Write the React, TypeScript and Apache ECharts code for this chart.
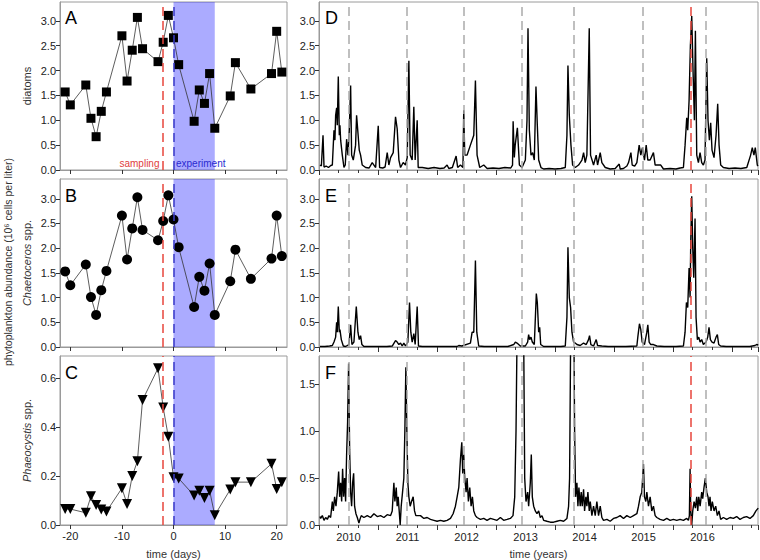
import React, { useEffect, useRef } from 'react';
import * as echarts from 'echarts';

// ---------- left panels: days relative to experiment start ----------
const days = [-21, -20, -17, -16, -15, -14, -13, -10, -9, -8, -7, -6, -3, -2, -1, 0, 1, 4, 5, 6, 7, 8, 11, 12, 15, 19, 20, 21];
const diatoms = [1.57, 1.31, 1.71, 1.04, 0.67, 1.18, 1.57, 2.70, 1.79, 2.41, 3.07, 2.44, 2.18, 2.57, 3.11, 2.66, 2.12, 0.98, 1.61, 1.34, 1.94, 0.84, 1.49, 2.16, 1.63, 1.94, 2.79, 1.97];
const chaetoceros = [1.53, 1.25, 1.67, 1.01, 0.65, 1.15, 1.54, 2.66, 1.77, 2.40, 3.03, 2.37, 2.16, 2.55, 3.07, 2.58, 2.02, 0.81, 1.42, 1.14, 1.69, 0.65, 1.33, 1.97, 1.38, 1.79, 2.66, 1.84];
const phaeocystis = [0.065, 0.065, 0.05, 0.117, 0.082, 0.063, 0.055, 0.15, 0.086, 0.20, 0.26, 0.51, 0.64, 0.48, 0.36, 0.195, 0.19, 0.12, 0.14, 0.11, 0.14, 0.04, 0.145, 0.175, 0.175, 0.25, 0.147, 0.175];

const samplingDay = -2;
const experimentStart = 0;
const experimentEnd = 8;
const dayTicks = [-20, -10, 0, 10, 20];

// ---------- right panels: decimal years ----------
const bloomDates = [2010.50, 2011.48, 2012.45, 2013.43, 2014.31, 2015.49, 2016.55];
const samplingDate = 2016.30;
const yearLabels = [2010, 2011, 2012, 2013, 2014, 2015, 2016];

const diatomsTs: [number, number][] = [
  [2010.017, 0.10], [2010.04, 0.08], [2010.068, 0.70], [2010.085, 0.06], [2010.12, 0.08], [2010.16, 0.05], [2010.20, 0.09],
  [2010.226, 0.10], [2010.254, 0.80], [2010.270, 0.60], [2010.282, 1.10], [2010.299, 1.25], [2010.310, 0.90], [2010.327, 1.88],
  [2010.344, 0.70], [2010.355, 0.90], [2010.367, 0.60], [2010.395, 0.30], [2010.423, 0.05], [2010.445, 0.10], [2010.468, 0.62],
  [2010.491, 0.30], [2010.513, 0.80], [2010.536, 1.70], [2010.553, 0.30], [2010.581, 0.20], [2010.620, 0.50], [2010.637, 1.10],
  [2010.660, 0.75], [2010.682, 0.40], [2010.705, 0.30], [2010.733, 0.10], [2010.790, 0.05], [2010.85, 0.04], [2010.902, 0.15],
  [2010.931, 0.10], [2010.96, 0.05], [2011.004, 0.89], [2011.027, 0.05], [2011.08, 0.04], [2011.12, 0.06], [2011.156, 0.35],
  [2011.184, 0.10], [2011.213, 0.25], [2011.258, 0.35], [2011.297, 1.07], [2011.325, 0.83], [2011.354, 0.20], [2011.382, 0.05],
  [2011.427, 0.15], [2011.466, 0.10], [2011.495, 0.25], [2011.523, 2.20], [2011.545, 0.30], [2011.579, 0.20], [2011.607, 1.27],
  [2011.630, 0.20], [2011.664, 1.00], [2011.681, 0.05], [2011.75, 0.05], [2011.85, 0.03], [2011.95, 0.05], [2012.05, 0.03],
  [2012.12, 0.04], [2012.171, 0.10], [2012.20, 0.03], [2012.26, 0.05], [2012.324, 0.28], [2012.35, 0.05], [2012.397, 0.10],
  [2012.440, 0.05], [2012.453, 1.20], [2012.470, 0.30], [2012.510, 0.30], [2012.566, 0.50], [2012.623, 0.70], [2012.651, 1.80],
  [2012.679, 0.30], [2012.724, 0.05], [2012.792, 0.10], [2012.85, 0.03], [2012.95, 0.04], [2013.05, 0.03], [2013.15, 0.05],
  [2013.25, 0.04], [2013.28, 0.10], [2013.29, 0.98], [2013.31, 0.25], [2013.325, 0.50], [2013.362, 0.85], [2013.396, 0.10],
  [2013.441, 0.05], [2013.497, 0.20], [2013.525, 1.00], [2013.542, 2.85], [2013.565, 0.80], [2013.593, 0.30], [2013.621, 0.35],
  [2013.649, 0.20], [2013.677, 1.68], [2013.700, 0.90], [2013.723, 0.20], [2013.762, 0.05], [2013.807, 0.02], [2013.90, 0.03],
  [2014.00, 0.02], [2014.10, 0.03], [2014.174, 0.05], [2014.202, 0.70], [2014.219, 2.10], [2014.242, 1.10], [2014.270, 0.50],
  [2014.298, 0.10], [2014.343, 0.05], [2014.399, 0.10], [2014.456, 0.20], [2014.484, 0.35], [2014.512, 0.15], [2014.540, 0.30],
  [2014.580, 2.85], [2014.602, 0.30], [2014.653, 0.10], [2014.698, 0.30], [2014.721, 0.10], [2014.766, 0.35], [2014.794, 0.15],
  [2014.851, 0.05], [2014.935, 0.02], [2015.02, 0.03], [2015.088, 0.12], [2015.105, 0.02], [2015.16, 0.03], [2015.218, 0.08],
  [2015.246, 0.15], [2015.286, 0.35], [2015.308, 0.10], [2015.350, 0.08], [2015.387, 0.15], [2015.426, 0.50], [2015.454, 0.30],
  [2015.482, 0.45], [2015.516, 0.20], [2015.545, 0.50], [2015.573, 0.20], [2015.612, 0.20], [2015.668, 0.35], [2015.697, 0.10],
  [2015.753, 0.10], [2015.792, 0.10], [2015.838, 0.02], [2015.95, 0.03], [2016.05, 0.02], [2016.12, 0.04], [2016.176, 0.05],
  [2016.204, 0.50], [2016.232, 1.05], [2016.249, 0.80], [2016.272, 1.40], [2016.294, 2.50], [2016.317, 3.10], [2016.339, 2.00],
  [2016.362, 1.00], [2016.379, 2.80], [2016.402, 0.30], [2016.430, 0.15], [2016.458, 0.35], [2016.486, 0.15], [2016.514, 0.10],
  [2016.542, 0.20], [2016.571, 2.25], [2016.593, 1.00], [2016.616, 0.60], [2016.638, 0.95], [2016.661, 0.40], [2016.695, 0.25],
  [2016.729, 0.70], [2016.757, 1.33], [2016.780, 0.50], [2016.808, 0.10], [2016.853, 0.05], [2016.95, 0.03], [2017.05, 0.04],
  [2017.15, 0.03], [2017.25, 0.05], [2017.315, 0.30], [2017.343, 0.45], [2017.371, 0.30], [2017.394, 0.45], [2017.428, 0.10],
  [2017.44, 0.08],
];

const chaetocerosTs: [number, number][] = [
  [2010.017, 0.01], [2010.10, 0.01], [2010.18, 0.02], [2010.226, 0.03], [2010.254, 0.10], [2010.282, 0.20], [2010.299, 0.50],
  [2010.310, 0.30], [2010.327, 0.82], [2010.344, 0.30], [2010.355, 0.35], [2010.378, 0.15], [2010.412, 0.02], [2010.45, 0.01],
  [2010.508, 0.05], [2010.536, 0.45], [2010.558, 0.05], [2010.592, 0.10], [2010.632, 0.82], [2010.660, 0.30], [2010.682, 0.15],
  [2010.705, 0.23], [2010.727, 0.05], [2010.761, 0.01], [2010.85, 0.01], [2010.95, 0.01], [2011.05, 0.01], [2011.15, 0.01],
  [2011.241, 0.02], [2011.297, 0.13], [2011.325, 0.10], [2011.354, 0.05], [2011.382, 0.08], [2011.410, 0.02], [2011.438, 0.08],
  [2011.466, 0.02], [2011.506, 0.10], [2011.534, 0.90], [2011.556, 0.30], [2011.579, 0.10], [2011.607, 0.27], [2011.630, 0.05],
  [2011.664, 0.82], [2011.686, 0.02], [2011.75, 0.01], [2011.9, 0.01], [2012.0, 0.01], [2012.1, 0.01], [2012.2, 0.01],
  [2012.34, 0.01], [2012.369, 0.03], [2012.42, 0.02], [2012.566, 0.08], [2012.595, 0.30], [2012.623, 0.30], [2012.651, 1.75],
  [2012.674, 0.30], [2012.707, 0.02], [2012.8, 0.01], [2012.9, 0.01], [2013.0, 0.01], [2013.1, 0.01], [2013.2, 0.01],
  [2013.300, 0.05], [2013.328, 0.10], [2013.356, 0.08], [2013.384, 0.05], [2013.412, 0.02], [2013.497, 0.02], [2013.536, 0.10],
  [2013.553, 0.25], [2013.570, 0.15], [2013.593, 0.20], [2013.615, 0.10], [2013.649, 0.05], [2013.683, 1.08], [2013.700, 0.90],
  [2013.723, 0.30], [2013.740, 0.40], [2013.757, 0.05], [2013.807, 0.01], [2013.9, 0.01], [2014.0, 0.01], [2014.1, 0.01],
  [2014.174, 0.02], [2014.202, 0.60], [2014.219, 2.02], [2014.242, 1.00], [2014.264, 0.80], [2014.287, 0.30], [2014.315, 0.10],
  [2014.343, 0.08], [2014.371, 0.05], [2014.427, 0.03], [2014.484, 0.08], [2014.529, 0.05], [2014.568, 0.15], [2014.585, 0.23],
  [2014.608, 0.05], [2014.653, 0.02], [2014.698, 0.15], [2014.721, 0.03], [2014.794, 0.02], [2014.9, 0.01], [2015.0, 0.01],
  [2015.1, 0.01], [2015.2, 0.01], [2015.387, 0.02], [2015.403, 0.20], [2015.431, 0.47], [2015.454, 0.35], [2015.477, 0.10],
  [2015.516, 0.05], [2015.556, 0.30], [2015.573, 0.45], [2015.595, 0.10], [2015.623, 0.05], [2015.668, 0.05], [2015.725, 0.02],
  [2015.85, 0.01], [2015.95, 0.01], [2016.05, 0.01], [2016.176, 0.02], [2016.204, 0.30], [2016.227, 0.90], [2016.249, 0.80],
  [2016.272, 1.60], [2016.289, 1.00], [2016.300, 2.10], [2016.317, 3.05], [2016.334, 2.00], [2016.351, 1.40], [2016.373, 2.60],
  [2016.390, 0.60], [2016.413, 0.15], [2016.436, 0.20], [2016.458, 0.10], [2016.486, 0.15], [2016.514, 0.05], [2016.560, 0.10],
  [2016.588, 0.20], [2016.610, 0.40], [2016.633, 0.15], [2016.661, 0.10], [2016.695, 0.08], [2016.729, 0.20], [2016.751, 0.25],
  [2016.774, 0.05], [2016.807, 0.02], [2016.9, 0.01], [2017.0, 0.01], [2017.1, 0.01], [2017.2, 0.01], [2017.3, 0.01],
  [2017.389, 0.03], [2017.416, 0.05], [2017.444, 0.04],
];

const phaeocystisTs: [number, number][] = [
  [2010.017, 0.09], [2010.028, 0.07], [2010.056, 0.10], [2010.085, 0.05], [2010.113, 0.08], [2010.141, 0.06], [2010.169, 0.10],
  [2010.197, 0.08], [2010.226, 0.25], [2010.243, 0.15], [2010.265, 0.30], [2010.288, 0.20], [2010.310, 0.35], [2010.333, 0.57],
  [2010.350, 0.30], [2010.367, 0.45], [2010.384, 0.25], [2010.400, 0.60], [2010.417, 0.30], [2010.434, 0.50], [2010.451, 0.25],
  [2010.468, 0.75], [2010.485, 1.10], [2010.502, 1.72], [2010.519, 0.80], [2010.536, 0.35], [2010.553, 0.20], [2010.570, 0.45],
  [2010.587, 0.55], [2010.603, 0.20], [2010.626, 0.12], [2010.649, 0.08], [2010.677, 0.02], [2010.694, 0.06], [2010.716, 0.10],
  [2010.761, 0.08], [2010.818, 0.10], [2010.874, 0.08], [2010.931, 0.12], [2010.987, 0.09], [2011.043, 0.10], [2011.100, 0.08],
  [2011.156, 0.11], [2011.213, 0.10], [2011.241, 0.15], [2011.269, 0.45], [2011.286, 0.25], [2011.309, 0.40], [2011.325, 0.20],
  [2011.342, 0.30], [2011.359, 0.15], [2011.376, 0.00], [2011.393, 0.20], [2011.416, 0.35], [2011.438, 0.50], [2011.455, 1.00],
  [2011.472, 1.68], [2011.489, 1.00], [2011.506, 0.45], [2011.523, 0.30], [2011.545, 0.20], [2011.568, 0.25], [2011.596, 0.30],
  [2011.619, 0.15], [2011.641, 0.10], [2011.720, 0.10], [2011.777, 0.07], [2011.833, 0.08], [2011.889, 0.06], [2011.946, 0.05],
  [2012.002, 0.04], [2012.059, 0.05], [2012.115, 0.04], [2012.171, 0.05], [2012.228, 0.07], [2012.273, 0.12], [2012.312, 0.20],
  [2012.341, 0.30], [2012.369, 0.40], [2012.397, 0.70], [2012.420, 0.88], [2012.436, 0.55], [2012.453, 0.75], [2012.470, 0.50],
  [2012.493, 0.35], [2012.510, 0.50], [2012.532, 0.25], [2012.555, 0.40], [2012.578, 0.20], [2012.600, 0.30], [2012.623, 0.15],
  [2012.651, 0.10], [2012.679, 0.08], [2012.736, 0.06], [2012.792, 0.07], [2012.848, 0.05], [2012.905, 0.07], [2012.961, 0.06],
  [2013.017, 0.05], [2013.074, 0.08], [2013.130, 0.05], [2013.187, 0.06], [2013.243, 0.07], [2013.288, 0.10], [2013.317, 0.30],
  [2013.339, 1.00], [2013.356, 2.00], [2013.384, 3.00], [2013.412, 2.50], [2013.441, 3.00], [2013.469, 2.00], [2013.486, 0.50],
  [2013.508, 0.25], [2013.536, 0.35], [2013.553, 0.20], [2013.581, 0.45], [2013.598, 0.75], [2013.615, 0.30], [2013.638, 0.20],
  [2013.666, 0.15], [2013.694, 0.12], [2013.723, 0.15], [2013.751, 0.08], [2013.779, 0.10], [2013.807, 0.05], [2013.863, 0.04],
  [2013.920, 0.03], [2013.976, 0.03], [2014.033, 0.04], [2014.089, 0.05], [2014.146, 0.04], [2014.202, 0.07], [2014.230, 0.20],
  [2014.247, 0.50], [2014.259, 1.50], [2014.270, 2.50], [2014.293, 3.00], [2014.315, 2.50], [2014.332, 1.00], [2014.349, 0.30],
  [2014.371, 0.45], [2014.388, 0.20], [2014.405, 0.40], [2014.427, 0.20], [2014.444, 0.35], [2014.461, 0.20], [2014.484, 0.38],
  [2014.501, 0.15], [2014.523, 0.30], [2014.540, 0.20], [2014.557, 0.35], [2014.580, 0.15], [2014.597, 0.25], [2014.625, 0.10],
  [2014.653, 0.20], [2014.681, 0.10], [2014.709, 0.25], [2014.738, 0.10], [2014.766, 0.20], [2014.794, 0.08], [2014.822, 0.05],
  [2014.879, 0.06], [2014.935, 0.04], [2014.991, 0.07], [2015.048, 0.08], [2015.104, 0.10], [2015.161, 0.07], [2015.217, 0.10],
  [2015.274, 0.08], [2015.330, 0.10], [2015.387, 0.12], [2015.415, 0.20], [2015.443, 0.30], [2015.471, 0.35], [2015.499, 0.65],
  [2015.516, 0.30], [2015.539, 0.25], [2015.556, 0.35], [2015.584, 0.20], [2015.612, 0.30], [2015.640, 0.15], [2015.668, 0.20],
  [2015.697, 0.10], [2015.725, 0.08], [2015.781, 0.06], [2015.838, 0.05], [2015.894, 0.07], [2015.951, 0.05], [2016.007, 0.06],
  [2016.063, 0.05], [2016.120, 0.06], [2016.176, 0.05], [2016.232, 0.07], [2016.261, 0.05], [2016.277, 0.10], [2016.289, 0.60],
  [2016.300, 0.15], [2016.317, 0.00], [2016.334, 0.15], [2016.357, 0.25], [2016.379, 0.18], [2016.402, 0.30], [2016.419, 0.15],
  [2016.436, 0.30], [2016.459, 0.20], [2016.486, 0.35], [2016.503, 0.28], [2016.525, 0.40], [2016.548, 0.50], [2016.571, 0.35],
  [2016.593, 0.30], [2016.610, 0.20], [2016.627, 0.30], [2016.644, 0.15], [2016.666, 0.25], [2016.695, 0.15], [2016.723, 0.20],
  [2016.751, 0.10], [2016.779, 0.15], [2016.807, 0.06], [2016.853, 0.08], [2016.909, 0.06], [2016.966, 0.08], [2017.022, 0.07],
  [2017.078, 0.09], [2017.135, 0.06], [2017.191, 0.08], [2017.247, 0.09], [2017.304, 0.07], [2017.360, 0.10], [2017.405, 0.15],
  [2017.444, 0.18],
];

const ticksBig = [0, 0.5, 1.0, 1.5, 2.0, 2.5, 3.0];
const ticksPhaeo = [0, 0.2, 0.4, 0.6];
const ticksPhaeoTs = [0, 0.5, 1.0, 1.5];

const FONT = '"Liberation Sans", Arial, Helvetica, sans-serif';
const FRAME = '#9a9a9a';
const TICK = '#333';
const LABEL = '#222';

function buildOption() {
  const rows = [
    { top: 2, height: 168 },
    { top: 179, height: 168 },
    { top: 356, height: 169 },
  ];
  const grid: any[] = [];
  rows.forEach((r) => grid.push({ left: 60, width: 227, top: r.top, height: r.height, show: true, borderColor: FRAME, borderWidth: 1, containLabel: false }));
  rows.forEach((r) => grid.push({ left: 319, width: 439, top: r.top, height: r.height, show: true, borderColor: FRAME, borderWidth: 1, containLabel: false }));

  const nameStyle = { fontSize: 11, color: '#333', fontFamily: FONT, rich: { i: { fontStyle: 'italic', fontSize: 11, color: '#333', fontFamily: FONT } } };

  const leftX = (i: number, showLabel: boolean) => ({
    type: 'value', gridIndex: i, min: -22, max: 22,
    axisLine: { show: true, onZero: false, lineStyle: { color: FRAME } },
    axisTick: { show: true, customValues: dayTicks, length: 4, lineStyle: { color: TICK } },
    axisLabel: { show: showLabel, customValues: dayTicks, color: LABEL, fontSize: 11, margin: 5, fontFamily: FONT },
    splitLine: { show: false },
    name: showLabel ? 'time (days)' : '', nameLocation: 'middle', nameGap: 23, nameTextStyle: nameStyle,
  });
  const rightX = (i: number, showLabel: boolean) => ({
    type: 'value', gridIndex: i, min: 2010, max: 2017.44, interval: 1,
    axisLine: { show: true, onZero: false, lineStyle: { color: FRAME } },
    axisTick: { show: true, length: 5, lineStyle: { color: TICK } },
    minorTick: { show: true, splitNumber: 3, length: 3, lineStyle: { color: TICK } },
    axisLabel: { show: showLabel, customValues: yearLabels.map((y) => y + 0.5), formatter: (v: number) => String(Math.floor(v)), color: LABEL, fontSize: 11, margin: 6, fontFamily: FONT },
    splitLine: { show: false }, minorSplitLine: { show: false },
    name: showLabel ? 'time (years)' : '', nameLocation: 'middle', nameGap: 23, nameTextStyle: nameStyle,
  });
  const yAx = (i: number, max: number, ticks: number[], name: string) => ({
    type: 'value', gridIndex: i, min: 0, max,
    axisLine: { show: true, onZero: false, lineStyle: { color: FRAME } },
    axisTick: { show: true, customValues: ticks, length: 4, lineStyle: { color: TICK } },
    axisLabel: { show: true, customValues: ticks, formatter: (v: number) => v.toFixed(1), color: LABEL, fontSize: 11, margin: 4, fontFamily: FONT },
    splitLine: { show: false },
    name, nameLocation: 'middle', nameGap: 28, nameRotate: 90, nameTextStyle: nameStyle,
  });

  const xAxis = [leftX(0, false), leftX(1, false), leftX(2, true), rightX(3, false), rightX(4, false), rightX(5, true)];
  const yAxis = [
    yAx(0, 3.38, ticksBig, 'diatoms'),
    yAx(1, 3.4, ticksBig, '{i|Chaetoceros} spp.'),
    yAx(2, 0.69, ticksPhaeo, '{i|Phaeocystis} spp.'),
    yAx(3, 3.38, ticksBig, ''),
    yAx(4, 3.4, ticksBig, ''),
    yAx(5, 1.8, ticksPhaeoTs, ''),
  ];

  const dash = [9, 5];
  const pointSeries = (i: number, vals: number[], symbol: string, size: number, rotate = 0) => ({
    type: 'line', xAxisIndex: i, yAxisIndex: i, z: 3, silent: true,
    data: days.map((d, k) => [d, vals[k]]),
    symbol, symbolSize: size, symbolRotate: rotate, showAllSymbol: true,
    itemStyle: { color: '#000', borderWidth: 0 },
    lineStyle: { color: '#333', width: 0.8 },
  });
  const leftOverlay = (i: number) => ({
    type: 'line', xAxisIndex: i, yAxisIndex: i, z: 5, silent: true, data: [],
    markArea: { silent: true, itemStyle: { color: 'rgba(0,0,255,0.33)' }, data: [[{ xAxis: experimentStart }, { xAxis: experimentEnd }]] },
    markLine: {
      silent: true, symbol: ['none', 'none'], label: { show: false },
      data: [
        { xAxis: samplingDay, lineStyle: { color: '#e8453c', type: dash, width: 1.5 } },
        { xAxis: experimentStart, lineStyle: { color: '#3a3ac8', type: dash, width: 1.5 } },
      ],
    },
  });
  const tsSeries = (i: number, data: [number, number][]) => ({
    type: 'line', xAxisIndex: i, yAxisIndex: i, z: 3, silent: true, data,
    symbol: 'none', clip: true, lineStyle: { color: '#000', width: 1.4 },
  });
  const rightOverlay = (i: number) => ({
    type: 'line', xAxisIndex: i, yAxisIndex: i, z: 1, silent: true, data: [],
    markLine: {
      silent: true, symbol: ['none', 'none'], label: { show: false },
      data: [
        ...bloomDates.map((d) => ({ xAxis: d, lineStyle: { color: '#aaaaaa', type: dash, width: 1.5 } })),
        { xAxis: samplingDate, lineStyle: { color: '#e8453c', type: dash, width: 1.5 } },
      ],
    },
  });

  const series = [
    pointSeries(0, diatoms, 'rect', 9),
    pointSeries(1, chaetoceros, 'circle', 10),
    pointSeries(2, phaeocystis, 'triangle', 10, 180),
    leftOverlay(0), leftOverlay(1), leftOverlay(2),
    tsSeries(3, diatomsTs), tsSeries(4, chaetocerosTs), tsSeries(5, phaeocystisTs),
    rightOverlay(3), rightOverlay(4), rightOverlay(5),
  ];

  const letter = (t: string, x: number, y: number) => ({
    type: 'text', x, y, z: 20,
    style: { text: t, fill: '#000', font: `18px ${FONT}`, fontSize: 18, fontFamily: FONT, align: 'left', verticalAlign: 'top', textAlign: 'left', textVerticalAlign: 'top' },
  });
  const graphic = [
    letter('A', 65, 9), letter('B', 65, 187), letter('C', 65, 364),
    letter('D', 325, 9), letter('E', 325, 187), letter('F', 325, 364),
    {
      type: 'text', x: 159.5, y: 163, z: 20,
      style: { text: 'sampling', fill: '#e03c3c', font: `10px ${FONT}`, fontSize: 10, fontFamily: FONT, align: 'right', verticalAlign: 'middle', textAlign: 'right', textVerticalAlign: 'middle' },
    },
    {
      type: 'text', x: 176, y: 163, z: 20,
      style: { text: 'experiment', fill: '#2a2ad0', font: `10px ${FONT}`, fontSize: 10, fontFamily: FONT, align: 'left', verticalAlign: 'middle', textAlign: 'left', textVerticalAlign: 'middle' },
    },
    {
      type: 'text', x: 8, y: 262, rotation: Math.PI / 2, z: 20,
      style: { text: 'phytoplankton abundance (10\u2076 cells per liter)', fill: '#333', font: `10.5px ${FONT}`, fontSize: 10.5, fontFamily: FONT, align: 'center', verticalAlign: 'middle', textAlign: 'center', textVerticalAlign: 'middle' },
    },
  ];

  return {
    animation: false,
    backgroundColor: '#ffffff',
    textStyle: { fontFamily: FONT },
    grid, xAxis, yAxis, series, graphic,
  };
}

export default function App() {
  const ref = useRef<HTMLDivElement>(null);
  useEffect(() => {
    if (!ref.current) return;
    const chart = echarts.init(ref.current, undefined, { renderer: 'svg' });
    chart.setOption(buildOption() as any);
    return () => chart.dispose();
  }, []);
  return <div ref={ref} style={{ position: 'absolute', left: 0, top: 0, width: 760, height: 560 }} />;
}
